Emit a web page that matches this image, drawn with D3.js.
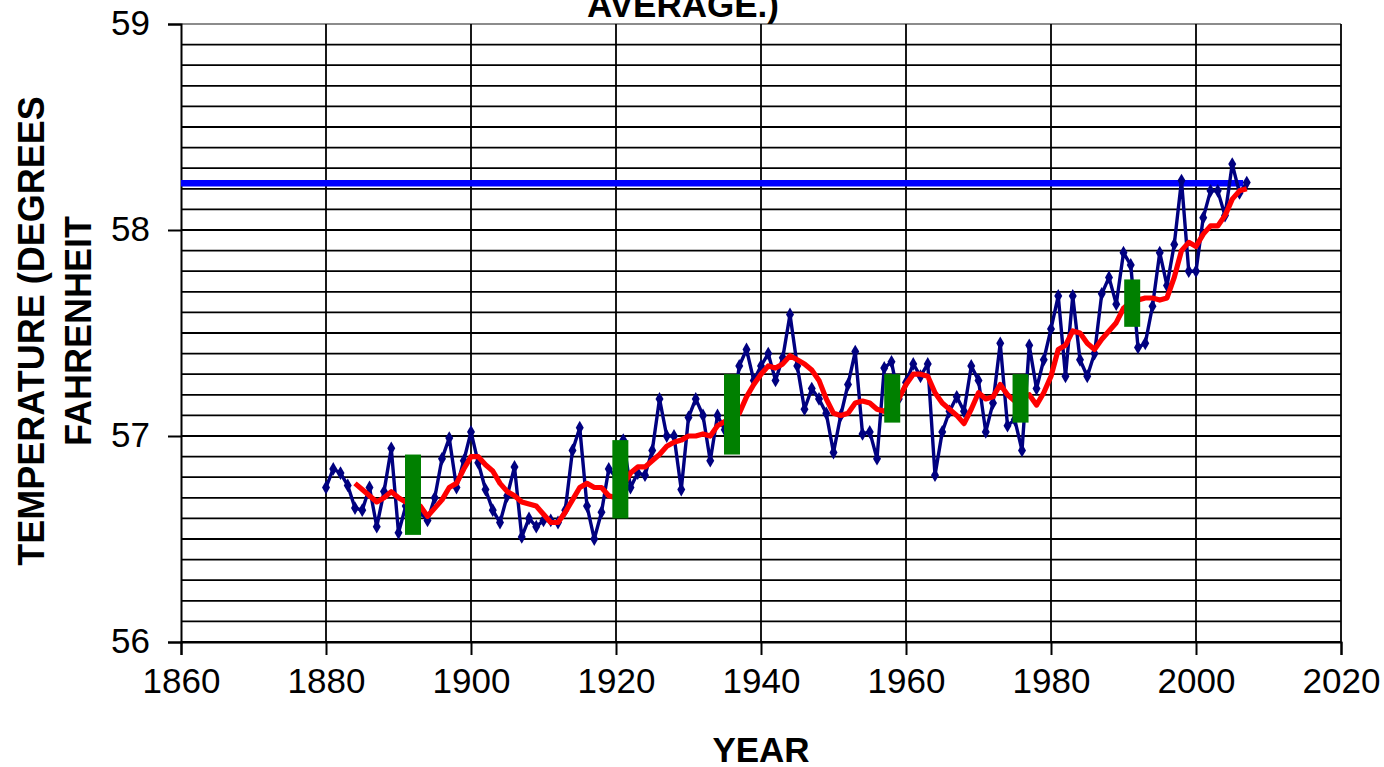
<!DOCTYPE html>
<html><head><meta charset="utf-8">
<script src="https://cdn.jsdelivr.net/npm/d3@7"></script>
<style>
html,body{margin:0;padding:0;background:#fff;overflow:hidden;}
svg{display:block;}
</style></head>
<body>
<svg id="chart" width="1384" height="767"></svg>
<script>
// ---- data ----
const firstYear = 1880;
const annualTemps = [
56.75,56.84,56.82,56.76,56.65,56.64,56.75,56.56,56.73,56.94,
56.53,56.66,56.60,56.63,56.59,56.70,56.89,56.99,56.75,56.88,
57.02,56.87,56.74,56.64,56.58,56.71,56.85,56.51,56.60,56.56,
56.59,56.59,56.58,56.64,56.93,57.04,56.66,56.50,56.63,56.84,
56.80,56.98,56.75,56.82,56.81,56.93,57.18,57.00,57.00,56.74,
57.09,57.18,57.10,56.88,57.10,57.03,57.08,57.34,57.42,57.27,
57.34,57.40,57.27,57.38,57.59,57.34,57.13,57.23,57.18,57.11,
56.92,57.10,57.25,57.41,57.01,57.02,56.89,57.33,57.36,57.18,
57.26,57.35,57.29,57.35,56.81,57.02,57.12,57.19,57.12,57.34,
57.27,57.02,57.16,57.45,57.05,57.08,56.93,57.44,57.23,57.37,
57.52,57.68,57.29,57.68,57.37,57.29,57.40,57.69,57.77,57.64,
57.89,57.83,57.43,57.45,57.63,57.89,57.73,57.93,58.24,57.80,
57.80,58.06,58.19,58.19,58.07,58.32,58.18,58.23
];
const avgFirstYear = 1884;
const runningAvg = [
56.77,56.74,56.71,56.68,56.70,56.73,56.70,56.68,56.67,56.66,
56.61,56.65,56.69,56.75,56.77,56.84,56.90,56.90,56.86,56.83,
56.77,56.73,56.71,56.68,56.67,56.66,56.62,56.58,56.58,56.63,
56.69,56.75,56.77,56.75,56.75,56.71,56.70,56.76,56.82,56.85,
56.85,56.88,56.91,56.95,56.97,56.98,57.00,57.00,57.01,57.00,
57.05,57.07,57.09,57.11,57.19,57.25,57.30,57.34,57.33,57.35,
57.39,57.37,57.35,57.32,57.27,57.18,57.11,57.10,57.11,57.16,
57.17,57.16,57.13,57.12,57.15,57.18,57.25,57.30,57.30,57.29,
57.21,57.16,57.13,57.10,57.06,57.13,57.21,57.18,57.19,57.25,
57.20,57.17,57.18,57.20,57.15,57.21,57.29,57.42,57.44,57.51,
57.50,57.45,57.42,57.47,57.51,57.55,57.62,57.65,57.66,57.67,
57.67,57.66,57.67,57.77,57.90,57.94,57.92,57.98,58.02,58.02,
58.07,58.15,58.19,58.20
];
const barYears = [1892, 1920.6, 1936, 1958.1, 1975.8, 1991.2];
const barLows  = [56.52, 56.60, 56.91, 57.065, 57.065, 57.53];
const barHighs = [56.91, 56.98, 57.30, 57.30, 57.30, 57.76];
const refLevel = 58.227;
const refStartYear = 1860, refEndYear = 2006.5;
const xTicks = [1860,1880,1900,1920,1940,1960,1980,2000,2020];
const yTicks = [56,57,58,59];
const titleText = "AVERAGE.)";
const yLabelLines = ["TEMPERATURE (DEGREES","FAHRENHEIT"];
const xLabelText = "YEAR";

// ---- drawing ----
const svg = d3.select("#chart");
const x = d3.scaleLinear().domain([1860,2020]).range([181,1341]);
const y = d3.scaleLinear().domain([56,59]).range([642,24]);

const blue = annualTemps.map((v,i)=>({yr:firstYear+i, v}));
const red = runningAvg.map((v,i)=>({yr:avgFirstYear+i, v}));

// horizontal gridlines every 0.1
const gridVals = d3.range(0,31).map(i=>56+i*0.1);
svg.append("g").selectAll("line").data(gridVals).join("line")
  .attr("x1",x(1860)).attr("x2",x(2020))
  .attr("y1",d=>y(d)).attr("y2",d=>y(d))
  .attr("stroke",(d,i)=> i===30 ? "#8c8c8c" : "#000")
  .attr("stroke-width",1.8);
// vertical gridlines
svg.append("g").selectAll("line").data(xTicks.slice(1)).join("line")
  .attr("x1",d=>x(d)).attr("x2",d=>x(d))
  .attr("y1",y(59)).attr("y2",y(56))
  .attr("stroke","#000").attr("stroke-width",1.8);

// axes
const tickFont = "Liberation Sans, Arial, sans-serif";
const xAxis = d3.axisBottom(x).tickValues(xTicks).tickFormat(d3.format("d")).tickSize(13).tickPadding(13);
const gx = svg.append("g").attr("transform",`translate(0,${y(56)})`).call(xAxis);
gx.select(".domain").attr("stroke","#000").attr("stroke-width",2);
gx.selectAll(".tick line").attr("stroke","#000").attr("stroke-width",2);
gx.selectAll("text").attr("font-family",tickFont)
  .attr("font-size",35).attr("fill","#000");

const yAxis = d3.axisLeft(y).tickValues(yTicks).tickFormat(d3.format("d")).tickSize(13).tickPadding(18);
const gy = svg.append("g").attr("transform",`translate(${x(1860)},0)`).call(yAxis);
gy.select(".domain").attr("stroke","#000").attr("stroke-width",2);
gy.selectAll(".tick line").attr("stroke","#000").attr("stroke-width",2);
gy.selectAll("text").attr("font-family",tickFont)
  .attr("font-size",35).attr("fill","#000").attr("dy","0.3em");

// reference line
svg.append("line")
  .attr("x1",x(refStartYear)).attr("x2",x(refEndYear))
  .attr("y1",y(refLevel)).attr("y2",y(refLevel))
  .attr("stroke","#0000ff").attr("stroke-width",6.5);

// annual line
const line = d3.line().x(d=>x(d.yr)).y(d=>y(d.v));
svg.append("path").datum(blue).attr("d",line)
  .attr("fill","none").attr("stroke","#000080").attr("stroke-width",3.4)
  .attr("stroke-linejoin","round");
svg.append("g").selectAll("path").data(blue).join("path")
  .attr("transform",d=>`translate(${x(d.yr)},${y(d.v)})`)
  .attr("d",d3.symbol().type(d3.symbolDiamond).size(55))
  .attr("fill","#000080");

// running average
svg.append("path").datum(red).attr("d",line)
  .attr("fill","none").attr("stroke","#ff0000").attr("stroke-width",5.2)
  .attr("stroke-linejoin","round");

// green bars
const bars = barYears.map((yr,i)=>({yr, lo:barLows[i], hi:barHighs[i]}));
svg.append("g").selectAll("rect").data(bars).join("rect")
  .attr("x",d=>x(d.yr)-8).attr("width",16)
  .attr("y",d=>y(d.hi)).attr("height",d=>y(d.lo)-y(d.hi))
  .attr("fill","#008000");

// titles
const bold = "Liberation Sans, Arial, sans-serif";
svg.append("text").attr("x",683).attr("y",17).attr("text-anchor","middle")
  .attr("font-family",bold).attr("font-weight","bold").attr("font-size",35).text(titleText);
svg.append("text").attr("x",x(1940)).attr("y",762).attr("text-anchor","middle")
  .attr("font-family",bold).attr("font-weight","bold").attr("font-size",35).text(xLabelText);
yLabelLines.forEach((t,i)=>{
  svg.append("text")
    .attr("transform",`translate(${44+i*47},${331}) rotate(-90)`)
    .attr("text-anchor","middle")
    .attr("font-family",bold).attr("font-weight","bold").attr("font-size",36).text(t);
});
</script>
</body></html>
